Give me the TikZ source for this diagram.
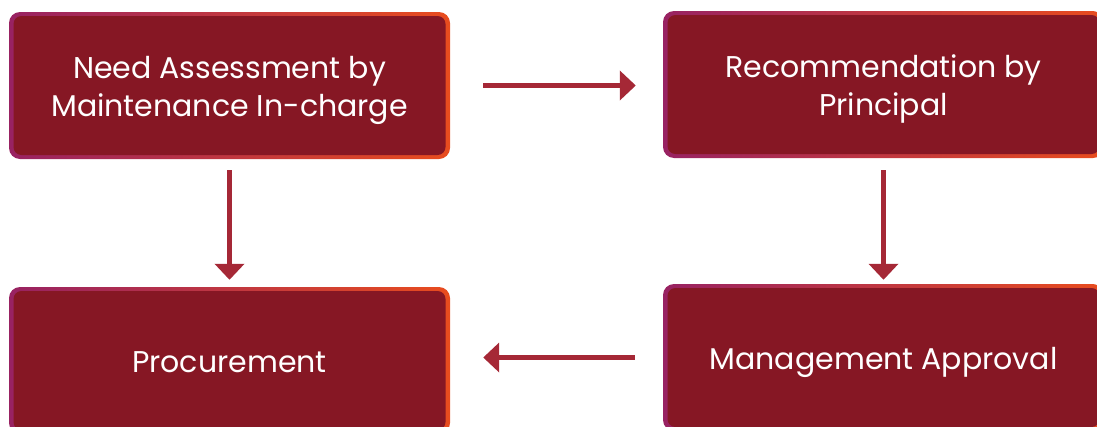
\documentclass[tikz,border=0pt]{standalone}
\usepackage{fontspec}
\setmainfont{Poppins}
\usetikzlibrary{arrows.meta, positioning}

\definecolor{boxred}{RGB}{134,23,36}
\definecolor{rimpurple}{RGB}{152,34,98}
\definecolor{rimorange}{RGB}{232,76,30}
\definecolor{arrowred}{RGB}{165,40,54}

\begin{document}
\begin{tikzpicture}[x=1pt,y=-1pt,
    framebox/.style={rectangle,rounded corners=11pt,minimum width=441pt,minimum height=147pt,
        left color=rimpurple,right color=rimorange,inner sep=0pt},
    stepbox/.style={rectangle,rounded corners=8pt,minimum width=432pt,minimum height=139pt,
        fill=boxred,text=white,font=\fontsize{30}{38}\selectfont,inner sep=0pt,
        text height=0pt,text depth=0pt},
    flowarrow/.style={draw=arrowred,line width=5pt,-{Triangle[length=16pt,width=29pt]}}]
    \useasboundingbox (0,0) rectangle (1097,426);
    \clip (0,0) rectangle (1097,426);
    % Gradient frames
    \node[framebox] (needframe) at (229.5,85.5) {};
    \node[framebox] (recframe) at (883.5,84.5) {};
    \node[framebox] (procframe) at (229.5,360.5) {};
    \node[framebox] (apprframe) at (883.5,357.5) {};
    % Steps
    \node[stepbox] (need) at (needframe) {\raisebox{7pt}{\begin{tabular}[t]{c}Need Assessment by\\Maintenance In-charge\end{tabular}}};
    \node[stepbox] (rec) at (recframe) {\raisebox{7pt}{\begin{tabular}[t]{c}Recommendation by\\Principal\end{tabular}}};
    \node[stepbox] (proc) at (procframe) {\raisebox{-12pt}{Procurement}};
    \node[stepbox] (appr) at (apprframe) {\raisebox{-12pt}{Management Approval}};
    % Arrows
    \draw[flowarrow,shorten <=33pt,shorten >=27pt] (needframe.east) -- (needframe.east -| recframe.west);
    \draw[flowarrow,shorten <=11pt,shorten >=7pt] (needframe.south) -- (needframe.south |- procframe.north);
    \draw[flowarrow,shorten <=12pt,shorten >=4pt] (recframe.south) -- (recframe.south |- apprframe.north);
    \draw[flowarrow,shorten <=28pt,shorten >=33pt] (apprframe.west) -- (apprframe.west -| procframe.east);
\end{tikzpicture}
\end{document}
